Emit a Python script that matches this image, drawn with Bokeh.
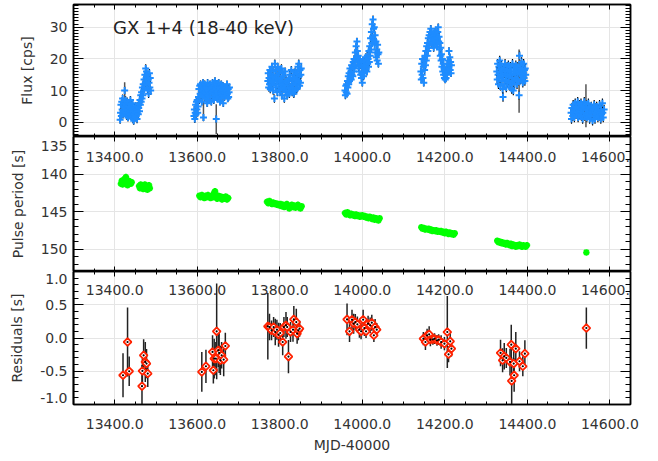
import numpy as np
from bokeh.plotting import figure
from bokeh.layouts import column
from bokeh.models import (Range1d, LinearAxis, SingleIntervalTicker, FixedTicker,
                          PrintfTickFormatter, BasicTickFormatter, Label,
                          CustomLabelingPolicy)
from bokeh.embed import file_html
from bokeh.resources import INLINE

FONT = "DejaVu Sans"
TXT = "#333333"

# ---------------- data ----------------
x_tick_vals = [13400, 13600, 13800, 14000, 14200, 14400, 14600]
x_tick_text = ["13400.0", "13600.0", "13800.0", "14000.0", "14200.0", "14400.0", "14600.0"]

flux_t1 = [13413,13414,13415,13416,13417,13418,13419,13420,13421,13422,
           13423,13424,13425,13426,13427,13428,13429,13430,13431,13432,
           13433,13434,13435,13436,13437,13438,13439,13440,13441,13442,
           13443,13444,13445,13446,13447,13448,13449,13450,13451,13452,
           13453,13454,13455,13456,13457,13458,13459,13460,13461,13462,
           13463,13464,13465,13466,13467,13468,13469,13470,13471,13472,
           13473,13474,13475,13476,13477,13478,13479,13480,13481,13482,
           13483,13484,13485,13486,13487]
flux_1 = [0.8,3.0,5.5,2.0,6.5,4.0,7.5,2.5,5.0,3.5,
          6.0,10.0,4.5,7.0,3.0,5.5,2.0,6.5,4.0,1.5,
          5.0,3.0,6.0,2.5,4.5,7.0,3.5,5.5,2.0,4.0,
          6.0,1.0,3.5,0.5,2.5,4.5,1.5,3.0,5.0,2.0,
          4.0,1.0,3.5,5.0,2.5,4.5,6.0,3.5,7.0,5.5,
          8.5,6.5,9.5,7.5,11.0,8.5,12.0,10.0,13.5,11.0,
          15.0,12.5,17.0,14.0,16.0,12.0,15.0,10.5,13.5,9.0,
          12.5,15.5,11.0,14.0,10.0]

flux_t2 = [13592,13593,13594,13595,13596,13597,13598,13599,13600,13601,
           13602,13603,13604,13605,13606,13607,13608,13609,13610,13611,
           13612,13613,13614,13615,13616,13617,13618,13619,13620,13621,
           13622,13623,13624,13625,13626,13627,13628,13629,13630,13631,
           13632,13633,13634,13635,13636,13637,13638,13639,13640,13641,
           13642,13643,13644,13645,13646,13647,13648,13649,13650,13651,
           13652,13653,13654,13655,13656,13657,13658,13659,13660,13661,
           13662,13663,13664,13665,13666,13667,13668,13669,13670,13671,
           13672,13673,13674,13675,13676,13677,13678]
flux_2 = [2.0,4.0,1.0,3.0,5.5,2.5,6.5,4.0,7.0,3.0,
          5.0,8.0,10.5,7.0,11.5,9.0,12.0,8.5,10.0,6.5,
          11.0,9.0,12.5,1.5,10.5,8.0,12.0,9.5,7.5,11.0,
          9.0,10.5,6.0,12.5,8.5,10.0,7.0,11.5,9.0,12.0,
          8.0,10.5,6.5,11.0,9.5,12.5,8.0,10.0,7.0,11.5,
          9.0,13.0,8.5,10.5,1.0,9.5,12.0,7.5,11.0,9.0,
          12.5,8.0,10.5,6.5,11.0,9.0,12.0,7.5,10.0,8.5,
          11.5,6.0,9.5,11.0,8.0,10.5,9.0,11.0,8.5,10.0,
          12.0,9.0,7.5,10.5,8.0,9.5,11.0]

flux_t3 = [13771,13772,13773,13774,13775,13776,13777,13778,13779,13780,
           13781,13782,13783,13784,13785,13786,13787,13788,13789,13790,
           13791,13792,13793,13794,13795,13796,13797,13798,13799,13800,
           13801,13802,13803,13804,13805,13806,13807,13808,13809,13810,
           13811,13812,13813,13814,13815,13816,13817,13818,13819,13820,
           13821,13822,13823,13824,13825,13826,13827,13828,13829,13830,
           13831,13832,13833,13834,13835,13836,13837,13838,13839,13840,
           13841,13842,13843,13844,13845,13846,13847,13848,13849,13850,
           13851,13852]
flux_3 = [13.0,15.5,11.0,14.0,12.0,16.5,10.5,13.5,15.0,11.5,
          17.5,12.5,14.5,10.0,16.0,13.0,7.5,18.5,14.0,11.0,
          16.5,12.0,15.0,9.5,17.5,13.5,11.0,15.5,12.5,16.5,
          10.0,14.0,11.5,17.0,8.5,13.0,15.5,10.5,12.0,14.5,
          7.5,11.0,16.0,9.5,13.0,10.0,12.5,8.5,11.5,13.0,
          10.0,13.5,9.0,15.0,11.0,14.0,10.5,16.5,12.0,9.5,
          13.5,11.0,15.0,9.0,12.5,14.0,10.0,16.0,12.0,13.5,
          10.5,15.5,11.0,17.5,13.0,18.5,14.5,11.5,16.5,12.5,
          15.0,17.0]

flux_t4 = [13958,13959,13960,13961,13962,13963,13964,13965,13966,13967,
           13968,13969,13970,13971,13972,13973,13974,13975,13976,13977,
           13978,13979,13980,13981,13982,13983,13984,13985,13986,13987,
           13988,13989,13990,13991,13992,13993,13994,13995,13996,13997,
           13998,13999,14000,14001,14002,14003,14004,14005,14006,14007,
           14008,14009,14010,14011,14012,14013,14014,14015,14016,14017,
           14018,14019,14020,14021,14022,14023,14024,14025,14026,14027,
           14028,14029,14030,14031,14032,14033,14034,14035,14036,14037,
           14038,14039,14040]
flux_4 = [10.0,8.5,11.5,9.5,12.0,9.0,13.0,11.0,14.5,12.0,
          15.5,13.0,17.0,14.0,16.0,13.5,18.0,15.0,17.5,14.5,
          19.0,16.0,20.0,17.0,19.5,22.0,18.0,24.0,20.5,25.5,
          22.5,19.0,21.0,17.5,19.5,16.0,20.0,18.0,15.0,19.0,
          14.0,17.5,12.5,16.0,19.5,14.5,18.0,15.5,19.0,16.5,
          20.5,17.0,19.5,16.0,21.0,18.5,20.0,17.5,22.5,19.0,
          24.0,21.0,26.5,23.0,28.5,25.0,31.0,27.0,32.5,29.5,
          26.0,30.0,24.5,27.5,22.0,25.5,20.5,23.0,19.5,24.5,
          21.5,18.5,22.0]

flux_t5 = [14142,14143,14144,14145,14146,14147,14148,14149,14150,14151,
           14152,14153,14154,14155,14156,14157,14158,14159,14160,14161,
           14162,14163,14164,14165,14166,14167,14168,14169,14170,14171,
           14172,14173,14174,14175,14176,14177,14178,14179,14180,14181,
           14182,14183,14184,14185,14186,14187,14188,14189,14190,14191,
           14192,14193,14194,14195,14196,14197,14198,14199,14200,14201,
           14202,14203,14204,14205,14206,14207,14208,14209,14210,14211,
           14212,14213,14214,14215,14216]
flux_5 = [16.0,13.5,18.5,15.0,20.0,14.0,17.5,12.5,19.5,16.5,
          21.0,18.0,22.5,19.5,24.0,21.0,25.0,22.5,26.5,23.5,
          27.5,24.5,28.5,25.5,29.5,26.5,28.0,25.0,27.0,24.5,
          26.0,23.5,27.5,25.0,28.5,26.0,29.0,25.5,27.5,24.0,
          26.5,28.5,30.0,25.5,27.0,23.0,25.0,21.0,23.5,19.5,
          21.5,17.5,20.0,16.0,18.5,15.0,17.0,14.0,16.5,13.5,
          15.5,14.0,17.0,15.0,18.5,16.0,19.5,17.0,22.5,18.0,
          20.5,16.5,19.0,15.5,18.0]

flux_t6 = [14326,14327,14328,14329,14330,14331,14332,14333,14334,14335,
           14336,14337,14338,14339,14340,14341,14342,14343,14344,14345,
           14346,14347,14348,14349,14350,14351,14352,14353,14354,14355,
           14356,14357,14358,14359,14360,14361,14362,14363,14364,14365,
           14366,14367,14368,14369,14370,14371,14372,14373,14374,14375,
           14376,14377,14378,14379,14380,14381,14382,14383,14384,14385,
           14386,14387,14388,14389,14390,14391,14392,14393,14394,14395,
           14396]
flux_6 = [16.0,13.5,18.5,15.0,12.0,17.5,14.0,19.5,16.0,11.5,
          15.0,18.0,13.0,16.5,10.5,8.0,14.5,17.0,12.0,15.5,
          18.5,13.5,16.0,11.0,14.5,17.5,12.5,15.0,18.0,13.0,
          16.5,11.5,15.0,17.5,12.5,16.0,10.5,14.0,18.5,13.0,
          10.0,15.5,17.0,12.0,16.0,14.0,18.0,13.5,16.5,12.0,
          15.0,17.5,13.0,16.0,8.5,21.0,15.5,18.0,13.5,16.5,
          19.0,14.5,17.0,12.5,15.5,18.5,14.0,16.5,13.0,17.0,
          15.0]

flux_t7 = [14506,14507,14508,14510,14511,14512,14514,14515,14516,14518,
           14519,14520,14522,14523,14524,14526,14527,14528,14530,14531,
           14532,14534,14535,14536,14538,14539,14540,14542,14543,14544,
           14546,14547,14548,14550,14551,14552,14554,14555,14556,14558,
           14559,14560,14562,14563,14564,14566,14567,14568,14570,14571,
           14572,14574,14575,14576,14578,14579,14580,14582,14583,14584,
           14586]
flux_7 = [3.0,1.0,4.5,2.0,5.5,3.5,1.5,4.0,6.0,2.5,
          5.0,3.0,6.5,1.5,4.5,2.5,5.5,3.5,6.0,2.0,
          4.0,1.0,5.0,3.0,6.5,2.0,4.5,3.0,5.5,1.5,
          4.0,2.5,6.0,3.5,1.0,4.5,2.0,5.0,3.0,0.5,
          4.0,2.0,5.5,3.0,1.0,4.5,2.5,5.0,3.5,1.5,
          4.0,2.0,5.5,3.0,1.0,4.0,2.5,6.0,3.0,1.5,
          4.0]

flux_err_typ = [1.3, 1.2, 1.3, 1.2, 1.2, 1.5, 1.5]
big_err_t = [13424, 13615, 13646, 13835, 14380, 14542]
big_err_f = [10.0, 3.6, 1.0, 12.5, 13.0, 5.2]
big_err_e = [2.6, 3.2, 4.7, 4.5, 10.0, 6.8]

per_t = [13415,13417,13419,13421,13423,13425,13427,13429,13431,13433,13435,13437,13439,13441,
         13459,13461,13463,13465,13467,13469,13471,13473,13475,13477,13479,13481,13483,13485,
         13605,13608,13611,13614,13617,13620,13623,13626,13629,13632,13635,13638,13641,13643,
         13645,13648,13651,13654,13657,13660,13663,13666,13669,13672,13675,
         13769,13772,13775,13778,13781,13784,13787,13790,13793,13796,13799,13802,13805,13808,
         13811,13814,13817,13820,13823,13826,13829,13832,13835,13838,13841,13844,13847,13850,13853,
         13958,13961,13964,13967,13970,13973,13976,13979,13982,13985,13988,13991,13994,13997,
         14000,14003,14006,14009,14012,14015,14018,14021,14024,14027,14030,14033,14036,14039,14042,
         14143,14146,14149,14152,14155,14158,14161,14164,14167,14170,14173,14176,14179,14182,
         14185,14188,14191,14194,14197,14200,14203,14206,14209,14212,14215,14218,14221,14224,
         14327,14330,14333,14336,14339,14342,14345,14348,14351,14354,14357,14360,14363,14366,
         14369,14372,14375,14378,14381,14384,14387,14390,14393,14396,14399,
         14543]
per_val = [141.3,140.9,141.4,141.0,140.7,141.2,140.4,141.1,141.5,140.9,141.2,141.0,141.3,141.1,
           141.6,141.9,141.4,141.8,141.5,142.0,141.7,141.4,141.9,141.6,142.1,141.7,141.5,141.9,
           142.9,143.1,142.8,143.0,143.2,142.9,143.1,142.8,143.0,143.2,142.9,143.1,142.5,142.3,
           143.0,143.3,142.9,143.2,143.0,143.4,143.1,143.3,143.0,143.4,143.2,
           143.7,143.9,143.6,143.8,144.0,143.8,144.0,143.9,144.1,144.0,144.2,144.0,144.3,144.1,
           144.4,144.2,144.0,144.3,144.6,144.3,144.1,144.4,144.2,144.5,144.3,144.1,144.4,144.6,144.3,
           145.2,145.4,145.1,145.3,145.5,145.3,145.5,145.4,145.6,145.4,145.6,145.5,145.7,145.6,
           145.5,145.7,145.6,145.8,145.7,145.9,145.7,145.8,146.0,145.8,146.1,145.9,146.0,146.2,145.9,
           147.1,147.3,147.2,147.4,147.3,147.4,147.3,147.5,147.4,147.6,147.5,147.6,147.5,147.7,
           147.6,147.7,147.6,147.8,147.7,147.9,147.7,147.8,148.0,147.8,148.0,147.9,148.1,147.9,
           148.9,149.1,149.0,149.2,149.1,149.3,149.2,149.4,149.2,149.3,149.5,149.3,149.6,149.4,
           149.5,149.7,149.5,149.6,149.4,149.6,149.7,149.5,149.6,149.7,149.5,
           150.45]

res_t = [13420,13431,13435,13466,13467,13470,13474,13477,13480,
         13611,13621,13637,13639,13641,13645,13647,13651,13653,13656,13659,13664,13668,
         13771,13775,13780,13785,13789,13793,13797,13801,13807,13810,13815,13818,13821,
         13826,13832,13834,13840,13842,13845,13848,
         13963,13969,13975,13979,13983,13988,13993,13997,14002,14005,14009,14014,14019,
         14023,14028,14031,14035,
         14148,14153,14157,14162,14165,14171,14175,14181,14185,14191,14199,14206,14209,
         14213,14216,
         14335,14340,14344,14349,14358,14361,14362,14367,14368,14372,14381,14389,14394,
         14543]
res_val = [-0.56,-0.06,-0.50,-0.725,-0.495,-0.26,-0.36,-0.385,-0.535,
           -0.51,-0.425,-0.21,-0.485,-0.31,-0.31,0.10,-0.185,-0.225,-0.335,-0.26,-0.325,-0.12,
           0.175,0.165,0.115,0.165,0.09,0.125,0.05,0.075,-0.06,0.165,0.19,0.165,-0.28,
           0.09,0.125,0.28,0.24,0.065,0.115,0.14,
           0.28,0.10,0.275,0.215,0.24,0.205,0.125,0.10,0.275,0.15,0.10,0.215,0.19,
           0.23,0.04,0.165,0.125,
           -0.01,-0.06,0.04,0.055,-0.025,-0.02,-0.01,-0.035,-0.025,-0.06,-0.085,0.09,-0.245,
           -0.05,-0.16,
           -0.225,-0.335,-0.275,-0.30,-0.36,-0.10,-0.645,-0.385,-0.56,-0.16,-0.35,-0.425,-0.235,
           0.15]
res_err = [0.33,0.52,0.22,0.32,0.20,0.24,0.30,0.22,0.20,
           0.30,0.25,0.25,0.20,0.30,0.25,0.72,0.25,0.30,0.22,0.20,0.25,0.20,
           0.50,0.20,0.15,0.15,0.20,0.15,0.18,0.15,0.20,0.15,0.20,0.15,0.25,
           0.15,0.18,0.20,0.20,0.15,0.15,0.12,
           0.24,0.16,0.15,0.15,0.12,0.12,0.12,0.12,0.15,0.12,0.10,0.12,0.12,
           0.12,0.10,0.12,0.10,
           0.10,0.12,0.10,0.12,0.10,0.08,0.08,0.08,0.08,0.10,0.10,0.54,0.12,
           0.12,0.12,
           0.20,0.18,0.20,0.15,0.20,0.30,0.35,0.20,0.25,0.25,0.15,0.15,0.20,
           0.31]

per_ticks = [135, 140, 145, 150]
per_tick_text = ["135", "140", "145", "150"]
res_ticks = [-1.0, -0.5, 0.0, 0.5, 1.0]
res_tick_text = ["-1.0", "-0.5", "0.0", "0.5", "1.0"]

# ---------------- helpers ----------------
X0, X1 = 13300, 14650
x_range = Range1d(X0, X1)


def make_fig(y0, y1, frame_h, top, bottom):
    p = figure(frame_width=557, frame_height=frame_h, x_range=x_range,
               y_range=Range1d(y0, y1), output_backend="svg", toolbar_location=None,
               x_axis_location=None, y_axis_location=None,
               min_border_left=73, min_border_right=28,
               min_border_top=top, min_border_bottom=bottom,
               background_fill_color="white", border_fill_color="white")
    p.outline_line_color = "black"
    p.outline_line_width = 1.5
    return p


def base_style(ax, major_in, minor_in):
    ax.major_tick_in = major_in
    ax.major_tick_out = 0
    ax.minor_tick_in = minor_in
    ax.minor_tick_out = 0
    ax.axis_line_color = "black"
    ax.axis_line_width = 1.5
    ax.major_tick_line_color = "black"
    ax.minor_tick_line_color = "black"
    ax.major_tick_line_width = 1
    ax.minor_tick_line_width = 1


def label_style(ax, standoff):
    ax.major_label_standoff = int(standoff)
    ax.major_label_text_font = FONT
    ax.major_label_text_font_size = "14px"
    ax.major_label_text_color = TXT


def tick_axis(p, ticker, loc, major_in, minor_in):
    ax = LinearAxis(ticker=ticker)
    base_style(ax, major_in, minor_in)
    ax.major_label_policy = CustomLabelingPolicy(code="return []")
    ax.major_label_text_font_size = "0px"
    ax.major_label_standoff = 0
    p.add_layout(ax, loc)


def ylabel_style(ax, text):
    ax.axis_label = text
    ax.axis_label_text_font = FONT
    ax.axis_label_text_font_size = "14px"
    ax.axis_label_text_font_style = "normal"
    ax.axis_label_text_color = TXT
    ax.axis_label_standoff = 12


def x_ticker():
    return SingleIntervalTicker(interval=200, num_minor_ticks=4)


def inner_x_axis(p, y_edge, standoff):
    """IDL draws the previous panel's x labels just under this panel's top edge:
    an x axis pinned to the top edge, ticks and labels pointing down into the frame."""
    ax = LinearAxis(ticker=x_ticker(), formatter=PrintfTickFormatter(format="%.1f"),
                    fixed_location=y_edge)
    base_style(ax, 0, 0)
    ax.major_tick_out = 5
    ax.minor_tick_out = 3
    label_style(ax, standoff)
    p.add_layout(ax, "below")


def shifted_left_labels(p, texts, pos, ylabel):
    ax = LinearAxis(ticker=FixedTicker(ticks=list(pos), minor_ticks=[]))
    base_style(ax, 0, 0)
    label_style(ax, 6)
    ax.major_label_overrides = {float(k): t for k, t in zip(pos, texts)}
    ylabel_style(ax, ylabel)
    p.add_layout(ax, "left")


# ---------------- top panel: flux ----------------
p1 = make_fig(-4.5, 37.2, 132, 4, 0)
yt1 = SingleIntervalTicker(interval=10, num_minor_ticks=10)
ax1 = LinearAxis(ticker=yt1, formatter=BasicTickFormatter())
base_style(ax1, 10, 5)
label_style(ax1, 6)
ylabel_style(ax1, "Flux [cps]")
p1.add_layout(ax1, "left")
tick_axis(p1, yt1, "right", 10, 5)
tick_axis(p1, x_ticker(), "above", 5, 3)
tick_axis(p1, x_ticker(), "below", 5, 3)

flux_sets = [(flux_t1, flux_1), (flux_t2, flux_2), (flux_t3, flux_3), (flux_t4, flux_4),
             (flux_t5, flux_5), (flux_t6, flux_6), (flux_t7, flux_7)]
for (t, f), e in zip(flux_sets, flux_err_typ):
    t = np.asarray(t, float); f = np.asarray(f, float)
    p1.segment(x0=t, y0=f - e, x1=t, y1=f + e, line_color="black", line_width=1.2)
bt = np.asarray(big_err_t, float); bf = np.asarray(big_err_f); be = np.asarray(big_err_e)
p1.segment(x0=bt, y0=bf - be, x1=bt, y1=bf + be, line_color="#555555", line_width=1.5)
for t, f in flux_sets:
    p1.scatter(x=t, y=f, marker="cross", size=7, line_color="#1E8CFF", line_width=2)

p1.add_layout(Label(x=39.5, y=108.7, x_units="screen", y_units="screen",
                    text="GX 1+4 (18-40 keV)", text_font=FONT, text_font_size="18px",
                    text_color="#222222", text_baseline="alphabetic"))

# ---------------- middle panel: pulse period (reversed axis) ----------------
P_LO, P_HI = 153.0, 135.0
p2 = make_fig(P_LO, P_HI, 135, 0, 0)
yt2 = SingleIntervalTicker(interval=5, num_minor_ticks=5)
tick_axis(p2, yt2, "left", 10, 5)
per_label_pos = [per_ticks[0] + 9 / (135 / 18.0)] + per_ticks[1:]
shifted_left_labels(p2, per_tick_text, per_label_pos, "Pulse period [s]")
tick_axis(p2, yt2, "right", 10, 5)
tick_axis(p2, x_ticker(), "below", 5, 3)
inner_x_axis(p2, P_HI, 10)
p2.scatter(x=per_t, y=per_val, marker="asterisk", size=6.5, line_color="#00FF00", line_width=2)

# ---------------- bottom panel: residuals ----------------
p3 = make_fig(-1.0, 1.0, 133, 0, 57)
yt3 = SingleIntervalTicker(interval=0.5, num_minor_ticks=5)
tick_axis(p3, yt3, "left", 10, 5)
ppu3 = 133 / 2.0
res_label_pos = ([res_ticks[0] + 6.3 / ppu3] + res_ticks[1:-1] + [res_ticks[-1] - 7.3 / ppu3])
shifted_left_labels(p3, res_tick_text, res_label_pos, "Residuals [s]")
tick_axis(p3, yt3, "right", 10, 5)

bx = LinearAxis(ticker=x_ticker(), formatter=PrintfTickFormatter(format="%.1f"))
base_style(bx, 5, 3)
label_style(bx, 14)
bx.axis_label = "MJD-40000"
bx.axis_label_text_font = FONT
bx.axis_label_text_font_size = "14px"
bx.axis_label_text_font_style = "normal"
bx.axis_label_text_color = TXT
bx.axis_label_standoff = 5
p3.add_layout(bx, "below")
inner_x_axis(p3, 1.0, 8)

rt = np.asarray(res_t, float); rv = np.asarray(res_val); re = np.asarray(res_err)
p3.segment(x0=rt, y0=rv - re, x1=rt, y1=rv + re, line_color="#222222", line_width=1.5)
p3.scatter(x=rt, y=rv, marker="square", angle=np.pi / 4, size=5.5,
           fill_color="white", line_color="#FF2200", line_width=1.8)
p3.scatter(x=rt, y=rv, marker="circle", size=2.2, fill_color="black", line_color=None)

layout = column(p1, p2, p3, spacing=0)
open("out.html", "w").write(file_html(layout, INLINE))
